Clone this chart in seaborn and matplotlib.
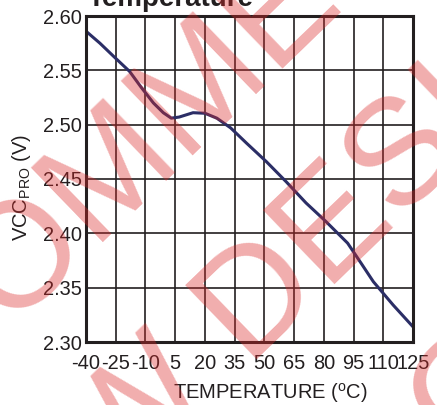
import matplotlib
matplotlib.use("Agg")
import matplotlib.pyplot as plt
import seaborn as sns
import numpy as np
import pandas as pd

# ---- data ----
temperature = [-40, -33, -25, -18, -12, -6, -1, 3, 7, 14, 20, 26, 33, 41, 51,
               61, 71, 81, 92, 99, 105, 115, 125]
vcc_pro = [2.586, 2.575, 2.561, 2.549, 2.534, 2.520, 2.511, 2.506, 2.507, 2.511,
           2.5105, 2.506, 2.497, 2.483, 2.466, 2.4475, 2.428, 2.411, 2.391,
           2.372, 2.3555, 2.334, 2.314]
x_ticks = [-40, -25, -10, 5, 20, 35, 50, 65, 80, 95, 110, 125]
y_ticks = [2.30, 2.35, 2.40, 2.45, 2.50, 2.55, 2.60]

df = pd.DataFrame({"T": temperature, "V": vcc_pro})

sns.set_style("white")
plt.rcParams["font.family"] = ["Liberation Sans", "DejaVu Sans"]
plt.rcParams["mathtext.fontset"] = "custom"
plt.rcParams["mathtext.rm"] = "Liberation Sans"

W, H = 437, 405
fig = plt.figure(figsize=(W / 100, H / 100), dpi=100)
ax = fig.add_axes([86 / W, 1 - 342 / H, (413 - 86) / W, (342 - 16) / H])

txt = "#231f20"
sns.lineplot(data=df, x="T", y="V", ax=ax, color="#2b2e66", linewidth=2.2)

ax.set_xlim(-40, 125)
ax.set_ylim(2.30, 2.60)
ax.set_xticks(x_ticks)
ax.set_xticklabels([str(t) for t in x_ticks])
ax.set_yticks(y_ticks)
ax.set_yticklabels([f"{v:.2f}" for v in y_ticks])
ax.tick_params(axis="both", length=0, labelsize=14.4, colors=txt)
ax.tick_params(axis="x", pad=8.5)
ax.tick_params(axis="y", pad=3)
ax.grid(True, color=txt, linewidth=1.2)
for s in ax.spines.values():
    s.set_visible(True)
    s.set_color(txt)
    s.set_linewidth(2.2)

ax.set_xlabel(r"TEMPERATURE ($^{\mathregular{o}}$C)", fontsize=14.5, color=txt)
ax.set_ylabel(r"VCC$_{\mathregular{PRO}}$ (V)", fontsize=14.5, color=txt)
ax.xaxis.set_label_coords(0.563, -0.12)
ax.yaxis.set_label_coords(-0.162, 0.475)

fig.text(88 / W, 1 - 6 / H, "Temperature", fontsize=20, fontweight="bold",
         color=txt, ha="left", va="baseline")

# ---- watermark (diagonal, semi-transparent, on top) ----
wm_color = (0.86, 0.16, 0.16, 0.38)
wm_angle = 44
wm_lines = [("NOT RECOMMENDED", -473, 798),
            ("FOR NEW DESIGNS", -291, 888)]
for s, px, py in wm_lines:
    fig.text(px / W, 1 - py / H, s, fontsize=108, color=wm_color,
             rotation=wm_angle, rotation_mode="anchor", ha="left",
             va="baseline", zorder=10)
fig.text(475 / W, 1 - 390 / H, "O", fontsize=108, color=wm_color,
         rotation=wm_angle, rotation_mode="anchor", ha="center",
         va="center", zorder=10)

fig.savefig("out.png", dpi=100)
